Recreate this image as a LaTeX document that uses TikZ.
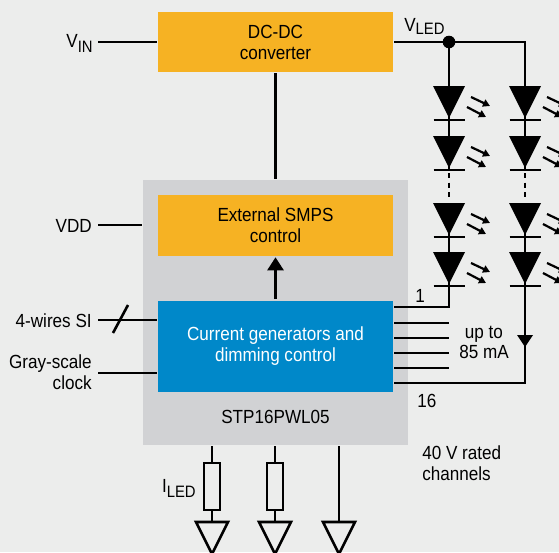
\documentclass[tikz,border=0pt]{standalone}
\usepackage{fontspec}
\setmainfont{Liberation Sans}[FakeStretch=0.9]
\usetikzlibrary{arrows.meta}
\definecolor{bgc}{HTML}{ECEDEC}
\definecolor{chipc}{HTML}{D1D2D4}
\definecolor{orangec}{HTML}{F6B223}
\definecolor{bluec}{HTML}{0088C9}
\newcommand\lowsub[2][5pt]{\raisebox{-#1}{\fontsize{16.5}{16.5}\selectfont #2}}
\newcommand\ledsym[2]{%
  \fill (#1-16,#2) -- (#1+16,#2) -- (#1,#2+32) -- cycle;
  \draw (#1-15.5,#2+34) -- (#1+15.5,#2+34);
  \draw[lightarrow] (#1+22,#2+11) -- ++(19,9);
  \draw[lightarrow] (#1+18,#2+21) -- ++(19,10);
}
\newcommand\gnd[1]{%
  \draw[line join=miter] (#1) ++(-16,0) -- ++(32,0) -- ++(-16,32) -- cycle;
}
\begin{document}
\begin{tikzpicture}[x=1pt,y=-1pt,line width=2.6pt,
  font=\fontsize{19}{21}\selectfont,
  box/.style={minimum width=235pt,inner sep=0pt,align=center},
  orangebox/.style={box,fill=orangec},
  lbl/.style={inner sep=0pt},
  lightarrow/.style={line width=2.2pt,-{Triangle[length=7pt,width=7.5pt]}},
  res/.style={draw,fill=bgc,minimum width=16pt,minimum height=47pt,inner sep=0pt}]
\fill[bgc] (0,0) rectangle (559,552);
\useasboundingbox (0,0) rectangle (559,552);
\clip (0,0) rectangle (559,552);
% chip
\node[fill=chipc,minimum width=265pt,minimum height=265pt,inner sep=0pt] (chip) at (275.5,312.5) {};
\node[orangebox,minimum height=60pt] (dcdc) at (275.5,42) {DC-DC\\converter};
\node[orangebox,minimum height=61pt] (smps) at (275.5,225.5) {External SMPS\\control};
\node[box,fill=bluec,text=white,minimum height=91pt] (cg) at (275.5,346) {Current generators and\\dimming control};
\node[lbl,anchor=base] (partno) at (275.5,423) {STP16PWL05};
% internal connections
\draw (dcdc.south) -- (chip.north);
\draw[-{Triangle[length=13pt,width=16pt]}] (cg.north) -- (smps.south);
% left inputs
\node[lbl,anchor=base east] (vin) at (94,47) {V\lowsub{IN}};
\node[lbl,anchor=base east] (vdd) at (93,232) {VDD};
\node[lbl,anchor=base east] (si) at (93,327) {4-wires SI};
\node[lbl,anchor=base east] (gs1) at (93,368) {Gray-scale};
\node[lbl,anchor=base east] (gs2) at (93,389) {clock};
\coordinate (vinE) at (98,42);
\coordinate (vddE) at (98,225);
\coordinate (siE) at (98,320);
\coordinate (gsE) at (98,373);
\draw (vinE) -- (dcdc.west |- vinE);
\draw (vddE) -- (chip.west |- vddE);
\draw (siE) -- (cg.west |- siE);
\draw (gsE) -- (cg.west |- gsE);
\coordinate (slA) at (113,333);
\coordinate (slB) at (128,305);
\draw (slA) -- (slB);
% LED strings
\coordinate (vled) at (449,42);
\coordinate (c2top) at (525,42);
\node[lbl,anchor=base west] (vledlbl) at (403,31) {V\lowsub[3pt]{LED}};
\draw (dcdc.east |- vled) -- (vled) -- (c2top) -- (525,171);
\draw (vled) -- (449,171);
\draw[dash pattern=on 5pt off 4.5pt] (449,173) -- (449,197);
\draw[dash pattern=on 5pt off 4.5pt] (525,173) -- (525,197);
\coordinate (ch1) at (449,307);
\coordinate (ch16) at (525,383);
\draw (449,203) -- (ch1) -- (cg.east |- ch1);
\draw (525,203) -- (ch16) -- (cg.east |- ch16);
\foreach \yy in {86,136,203,252}{\ledsym{449}{\yy}\ledsym{525}{\yy}}
\fill (vled) circle (6.3pt);
\fill (517,335) -- (533,335) -- (525,347) -- cycle;
\foreach \yy in {323,338,353,368}{\draw (cg.east |- {(0,\yy)}) -- (449,\yy);}
\node[lbl,anchor=base] (n1) at (420,302) {1};
\node[lbl,anchor=base west] (n16) at (416,407) {16};
\node[lbl,align=center,font=\fontsize{19}{20}\selectfont] (upto) at (484,342) {up to\\85 mA};
\node[lbl,anchor=base west] (rated1) at (421,459) {40 V rated};
\node[lbl,anchor=base west] (rated2) at (421,480) {channels};
% bottom
\node[res] (r1) at (212,486.5) {};
\node[res] (r2) at (275,486.5) {};
\coordinate (g1) at (212,522);
\coordinate (g2) at (275,522);
\coordinate (g3) at (339,522);
\draw (chip.south -| r1) -- (r1.north);
\draw (chip.south -| r2) -- (r2.north);
\draw (r1.south) -- (g1);
\draw (r2.south) -- (g2);
\draw (chip.south -| g3) -- (g3);
\gnd{g1}\gnd{g2}\gnd{g3}
\node[lbl,anchor=base east] (iled) at (197,492) {I\lowsub{LED}};
\end{tikzpicture}
\end{document}
